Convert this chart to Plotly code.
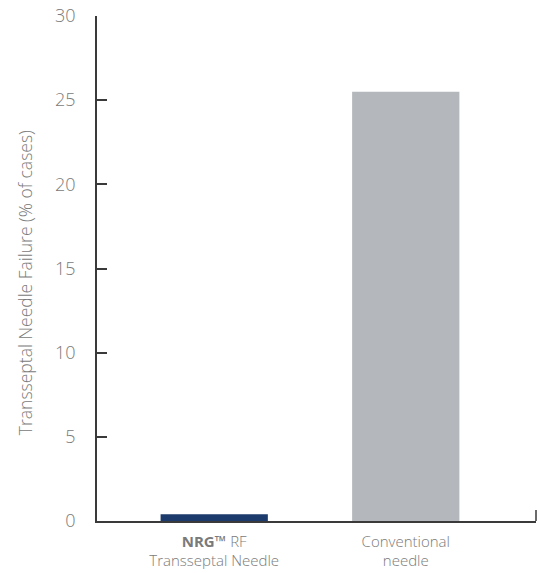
import plotly.graph_objects as go

categories = ["<b>NRG™</b> RF<br>Transseptal Needle", "Conventional<br>needle"]
values = [0.4, 25.5]
colors = ["#1c3a6b", "#b4b7bb"]
y_ticks = [0, 5, 10, 15, 20, 25, 30]
y_title = "Transseptal Needle Failure (% of cases)"

x_pos = list(range(len(categories)))

fig = go.Figure(go.Bar(
    x=x_pos, y=values, marker=dict(color=colors, line=dict(width=0)),
    width=0.56, hoverinfo="skip",
))

text_color = "#7a7a7a"
font_family = "Open Sans"

fig.update_layout(
    width=537, height=573,
    margin=dict(l=97, r=1, t=16, b=52),
    paper_bgcolor="white", plot_bgcolor="white",
    showlegend=False,
    font=dict(family=font_family, color=text_color, size=13, weight=300),
    xaxis=dict(
        range=[-0.612, 1.68],
        tickvals=x_pos, ticktext=categories,
        showline=True, linecolor="#3a3a3a", linewidth=1.5,
        ticks="", showgrid=False, zeroline=False, automargin=False,
        ticklabelstandoff=6,
        tickfont=dict(size=15, color=text_color, family=font_family, weight=300),
    ),
    yaxis=dict(
        range=[0, 30], tickvals=y_ticks,
        showline=True, linecolor="#3a3a3a", linewidth=1.5,
        ticks="inside", ticklen=10, tickwidth=1.5, tickcolor="#3a3a3a",
        showgrid=False, zeroline=False, automargin=False,
        ticklabelstandoff=16,
        tickfont=dict(size=18, color=text_color, family=font_family, weight=300),
    ),
)

fig.add_annotation(
    text=y_title, textangle=-90, showarrow=False,
    xref="paper", yref="paper", x=0, xshift=-72, y=0.471,
    xanchor="center", yanchor="middle",
    font=dict(size=17.5, color=text_color, family=font_family, weight=300),
)

fig.add_shape(type="line", xref="x domain", yref="y",
              x0=1, x1=1, y0=0, y1=0.65,
              line=dict(color="#3a3a3a", width=1.5))

fig.write_html("out.html", config={"displayModeBar": False},
               post_script="document.body.style.margin='0';document.body.style.overflow='hidden';")
